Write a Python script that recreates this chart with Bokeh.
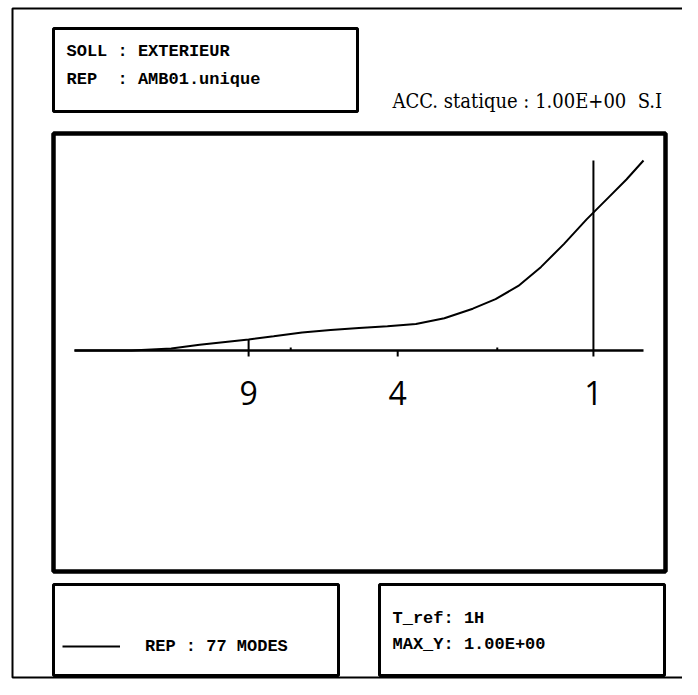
import math
from bokeh.plotting import figure
from bokeh.models import Range1d, BoxAnnotation, Label, Legend, LegendItem
from bokeh.core.properties import value
from bokeh.embed import file_html
from bokeh.resources import INLINE

# ---- data ----
curve_x = [0, 10, 17, 22, 30.6, 35, 40, 45, 50, 55, 60, 65, 70, 74, 78, 82, 86, 90, 94, 97, 100]
curve_y = [0.0, 0.0, 0.01, 0.03, 0.058, 0.075, 0.095, 0.108, 0.118, 0.128, 0.14, 0.17, 0.22,
           0.27, 0.34, 0.44, 0.56, 0.69, 0.81, 0.90, 1.0]
axis_start, axis_end = 0, 100
tick_positions = [30.6, 56.8, 91.2]
tick_labels = ["9", "4", "1"]
minor_positions = [38.0, 74.3]
mark_x = [30.6, 91.2]
mark_top = [0.058, 1.0]
header_lines = ["SOLL : EXTERIEUR", "REP\u00a0\u00a0: AMB01.unique"]
title_text = "ACC. statique : 1.00E+00\u00a0\u00a0S.I"
legend_label = "REP : 77 MODES"
info_lines = ["T_ref: 1H", "MAX_Y: 1.00E+00"]

# ---- layout: the frame covers the whole canvas ----
W, H = 682, 679
X0_PX, X100_PX = 74.0, 643.0   # pixel of x = 0 and x = 100
Y0_PX, Y1_PX = 350.0, 160.0    # pixel of y = 0 and y = 1
kx = (X100_PX - X0_PX) / 100.0
ky = (Y0_PX - Y1_PX) / 1.0
x_range = Range1d(-X0_PX / kx, (W - X0_PX) / kx)
y_range = Range1d((Y0_PX - H) / ky, Y0_PX / ky)

def sy(py):  # canvas y (from top) -> screen y (from bottom)
    return H - py

p = figure(width=W, height=H, output_backend="svg", toolbar_location=None,
           x_range=x_range, y_range=y_range, x_axis_location=None, y_axis_location=None,
           min_border=0)
p.grid.visible = False
p.outline_line_color = None
p.background_fill_color = "white"
p.border_fill_color = "white"

box_style = dict(fill_alpha=0, line_color="black", line_alpha=1, left_units="screen",
                 right_units="screen", top_units="screen", bottom_units="screen")
frames = [  # left, top, right, bottom (canvas px), width
    (12, 8, 700, 677, 2),
    (53, 28, 357, 111, 3),
    (53, 133, 665, 571, 4.5),
    (53, 584, 338, 675, 3),
    (379, 584, 664, 675, 3),
]
for l, t, r, b, lw in frames:
    p.add_layout(BoxAnnotation(left=l, right=r, top=sy(t), bottom=sy(b), line_width=lw,
                               **box_style))

# axis drawn in data space
p.segment(x0=[axis_start], y0=[0], x1=[axis_end], y1=[0], line_color="black", line_width=2.5)
p.ray(x=tick_positions, y=[0] * len(tick_positions), length=6, length_units="screen",
      angle=-math.pi / 2, line_color="black", line_width=2)
p.ray(x=minor_positions, y=[0] * len(minor_positions), length=3, length_units="screen",
      angle=math.pi / 2, line_color="black", line_width=2)
p.text(x=tick_positions, y=[0] * len(tick_positions), text=tick_labels, y_offset=42,
       text_align="center", text_baseline="middle", text_font=value("Open Sans"),
       text_font_size="32px", text_color="black")

curve = p.line(curve_x, curve_y, line_color="black", line_width=2)
p.segment(x0=mark_x, y0=[0] * len(mark_x), x1=mark_x, y1=mark_top,
          line_color="black", line_width=2)

mono = dict(x_units="screen", y_units="screen", text_font="Liberation Mono",
            text_font_style="bold", text_font_size="17px", text_baseline="middle",
            text_color="black")
for txt, py in zip(header_lines, [51, 79]):
    p.add_layout(Label(x=66, y=sy(py), text=txt, **mono))
for txt, py in zip(info_lines, [618, 644]):
    p.add_layout(Label(x=392, y=sy(py), text=txt, **mono))

p.add_layout(Label(x=392, y=sy(100), x_units="screen", y_units="screen", text=title_text,
                   text_font="DejaVu Serif Condensed", text_font_size="20px",
                   text_baseline="middle", text_color="black"))

leg = Legend(items=[LegendItem(label=legend_label, renderers=[curve])],
             location=(62, sy(656)), glyph_width=58, glyph_height=20,
             label_standoff=25, padding=0, margin=0, border_line_alpha=0,
             background_fill_alpha=0, label_text_font="Liberation Mono",
             label_text_font_style="bold", label_text_font_size="17px",
             label_text_color="black")
p.add_layout(leg, "center")

open("out.html", "w").write(file_html(p, INLINE))
